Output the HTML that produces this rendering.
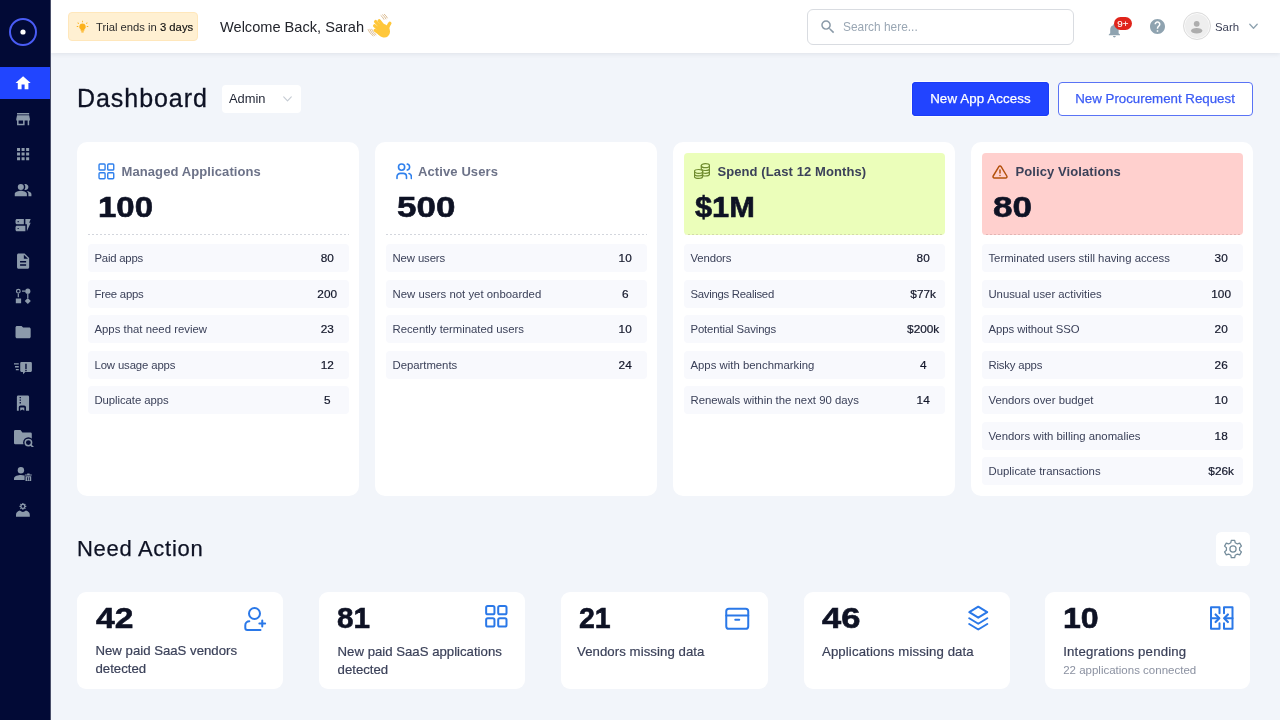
<!DOCTYPE html>
<html lang="en">
<head>
<meta charset="utf-8">
<title>Dashboard</title>
<style>
*{box-sizing:border-box;margin:0;padding:0}
html,body{width:1280px;height:720px;overflow:hidden}
body{font-family:"Liberation Sans",sans-serif;background:#f2f5fa;color:#1a1f36;position:relative}
svg{display:block}
/* sidebar */
.side{position:absolute;left:0;top:0;width:50px;height:720px;background:#020a36;box-shadow:1px 0 0 #4a4f6a;z-index:5}
.logo{position:absolute;left:9.2px;top:17.9px;width:28px;height:28px}
.nav{position:absolute;left:0;top:67.2px;width:50px}
.nav a{display:block;position:relative;width:50px;height:32px;margin-bottom:3.56px;color:#8c9aab}
.nav a.on{background:#2145ff;color:#fff}
.nav svg{position:absolute;fill:currentColor}
/* header */
.top{position:absolute;left:51px;top:0;width:1229px;height:53px;background:#fff;box-shadow:0 1px 5px rgba(20,30,60,.09);z-index:4}
.trial{position:absolute;left:17px;top:12.3px;width:130.3px;height:28.6px;background:#fff0d2;border:1px solid #ffe7bb;border-radius:4px;font-size:11.25px;color:#2b2b2b;line-height:27px;white-space:nowrap}
.trial svg{position:absolute;left:6.5px;top:7px;width:13px;height:14px}
.trial span{position:absolute;left:27px;top:.5px}
.trial b{font-weight:400;color:#111;-webkit-text-stroke:.15px #111}
.welcome{position:absolute;left:169px;top:17px;font-size:14.6px;line-height:20px;color:#23252c;white-space:nowrap}
.wave{position:absolute;left:315px;top:12px;width:28px;height:28px}
.search{position:absolute;left:756px;top:9px;width:267px;height:35.5px;border:1px solid #d9dce1;border-radius:6px;background:#fff}
.search svg{position:absolute;left:11.3px;top:8.3px;width:17.8px;height:17.8px}
.search span{position:absolute;left:35px;top:8.7px;font-size:11.9px;line-height:17px;color:#9aa7b4;white-space:nowrap}
.bell{position:absolute;left:1054.9px;top:21.6px;width:16.8px;height:16.8px}
.badge{position:absolute;left:1062.6px;top:16.6px;width:18.7px;height:13px;border-radius:6.5px;background:#e0241b;color:#fff;font-size:9.8px;-webkit-text-stroke:.12px #fff;line-height:13px;text-align:center}
.help{position:absolute;left:1099.2px;top:18.8px;width:15px;height:15px}
.avatar{position:absolute;left:1132px;top:12.2px;width:28.1px;height:28.1px;border-radius:50%;background:#eee;border:1px solid #dcdcdc;box-shadow:inset 0 0 0 1px #fafafa;overflow:hidden}
.avatar svg{position:absolute;left:4.3px;top:4.5px;width:17.4px;height:17.4px}
.uname{position:absolute;left:1164px;top:18.5px;font-size:11.4px;line-height:17px;color:#3a3f55}
.chev{position:absolute;left:1197.5px;top:23px;width:9px;height:7px}
/* main */
.h1{position:absolute;left:77px;top:83px;font-size:25px;letter-spacing:.95px;-webkit-text-stroke:.3px #0e1224;line-height:30px;font-weight:400;color:#0e1224;white-space:nowrap}
.sel{position:absolute;left:222px;top:85px;width:79px;height:27.5px;background:#fff;border-radius:4px;font-size:12.9px;line-height:28px;padding-left:7px;color:#1f2433}
.sel svg{position:absolute;left:61px;top:10.5px;width:9px;height:6px}
.btn{position:absolute;top:82px;height:33.5px;border-radius:4px;font-size:13.3px;line-height:33.5px;text-align:center;white-space:nowrap}
.btn.p{left:912px;width:137px;letter-spacing:.12px;background:#2244ff;color:#fff;-webkit-text-stroke:.25px #fff;box-shadow:inset 0 0 0 1px #1b3cf6,0 0 0 1px rgba(255,255,255,.75)}
.btn.s{left:1057.8px;width:195.5px;text-indent:-1px;background:#fff;color:#3b5bf5;-webkit-text-stroke:.25px #3b5bf5;border:1px solid #5a73f5;line-height:31.5px}
/* stat cards */
.cards{position:absolute;left:77.2px;top:142px;width:1176.2px;height:354px;display:flex;gap:15.8px}
.card{width:282.2px;height:354px;background:#fff;border-radius:10px;padding:11px 10.7px}
.hd{height:81.5px;position:relative;background:linear-gradient(90deg,#d3d6dd 0 2px,transparent 2px 4px) 0 100%/4px 1px repeat-x}
.hd.g{background:linear-gradient(90deg,#d3dba8 0 2px,transparent 2px 4px) 0 100%/4px 1px repeat-x,#ebfeba;border-radius:4px}
.hd.r{background:linear-gradient(90deg,#e3b5b3 0 2px,transparent 2px 4px) 0 100%/4px 1px repeat-x,#ffd0ce;border-radius:4px}
.hd svg{position:absolute;left:10px;top:10px;width:17px;height:17px}
.hd .t{position:absolute;left:33.6px;top:10px;letter-spacing:.1px;font-size:13px;line-height:17px;font-weight:700;color:#6c7288;white-space:nowrap}
.hd.g .t,.hd.r .t{color:#3b4159}
.hd .n{position:absolute;left:10px;top:36px;font-size:30px;line-height:36px;font-weight:700;color:#0e1224;-webkit-text-stroke:.6px #0e1224;white-space:nowrap;transform-origin:0 50%}
.rows{margin-top:9.5px}
.row{height:28px;margin-bottom:7.5px;background:#f8f9fd;border-radius:4px;position:relative;font-size:11.35px;line-height:28px;color:#3b4159;white-space:nowrap}
.row span{position:absolute;left:6.6px;top:0}
.row b{position:absolute;right:0;top:0;width:43px;text-align:center;font-weight:400;font-size:11.8px;color:#14182b;-webkit-text-stroke:.2px #14182b}
/* need action */
.h2{position:absolute;left:77px;top:535px;font-size:22px;letter-spacing:.7px;font-weight:400;-webkit-text-stroke:.25px #0e1224;line-height:28px;color:#0e1224;white-space:nowrap}
.gear{position:absolute;left:1215.8px;top:531.6px;width:34.4px;height:34px;background:#fff;border-radius:5.5px}
.gear svg{position:absolute;left:4.9px;top:5.1px;width:24px;height:24px}
.acts{position:absolute;left:77px;top:592px;width:1176px;height:96.5px}
.act{position:absolute;top:0;width:206px;height:96.5px;background:#fff;border-radius:9px}
.act .n{position:absolute;left:18px;top:8px;font-size:30px;line-height:36px;font-weight:700;color:#0e1224;-webkit-text-stroke:.6px #0e1224;transform-origin:0 50%}
.act .l{position:absolute;left:18.5px;top:50px;-webkit-text-stroke:.2px #3b4159;font-size:13.2px;line-height:18px;color:#3b4159;width:175px}
.act .s{position:absolute;left:18px;top:71.2px;font-size:11.5px;line-height:14px;color:#8b91a1;white-space:nowrap}
.act svg{position:absolute;fill:none;stroke:#2a78e8;stroke-width:2;stroke-linecap:round;stroke-linejoin:round}
</style>
</head>
<body>
<aside class="side">
  <svg class="logo" viewBox="0 0 28 28"><circle cx="14" cy="14" r="13" fill="none" stroke="#4a5cf5" stroke-width="2"/><circle cx="14" cy="14" r="2.6" fill="#fff"/></svg>
  <nav class="nav">
    <a class="on"><svg viewBox="0 0 24 24" style="left:14.2px;top:6.9px;width:18.2px;height:18.2px"><path d="M10 20v-6h4v6h5v-8h3L12 3 2 12h3v8z"/></svg></a>
    <a><svg viewBox="0 0 24 24" style="left:14.2px;top:6.9px;width:18.2px;height:18.2px"><path d="M20 4H4v2h16V4zm1 10v-2l-1-5H4l-1 5v2h1v6h10v-6h4v6h2v-6h1zm-9 4H6v-4h6v4z"/></svg></a>
    <a><svg viewBox="0 0 24 24" style="left:14.2px;top:6.9px;width:18.2px;height:18.2px"><path d="M4 8h4V4H4v4zm6 12h4v-4h-4v4zm-6 0h4v-4H4v4zm0-6h4v-4H4v4zm6 0h4v-4h-4v4zm6-10v4h4V4h-4zm-6 4h4V4h-4v4zm6 6h4v-4h-4v4zm0 6h4v-4h-4v4z"/></svg></a>
    <a><svg viewBox="0 0 24 24" style="left:14.2px;top:6.9px;width:18.2px;height:18.2px"><path d="M16.670 13.130C18.040 14.060 19 15.320 19 17v3h4v-3c0-2.180-3.570-3.470-6.330-3.870z"/><circle cx="9" cy="8" r="4"/><path d="M15 12c2.210 0 4-1.790 4-4s-1.790-4-4-4c-.47 0-.91.100-1.330.240C14.500 5.270 15 6.580 15 8s-.5 2.730-1.330 3.760c.42.140.86.240 1.330.240zM9 13c-2.670 0-8 1.340-8 4v3h16v-3c0-2.660-5.330-4-8-4z"/></svg></a>
    <a><svg viewBox="0 0 24 24" style="left:14.2px;top:6.9px;width:18.2px;height:18.2px"><path d="M17 20v-9h-2V4h7l-2 5h2l-5 11zm-2-7v7H4c-1.100 0-2-.9-2-2v-3c0-1.100.9-2 2-2h11zm-8.750 2.750h-1.500v1.500h1.500v-1.500zM13 4v7H4c-1.100 0-2-.9-2-2V6c0-1.100.9-2 2-2h9zM6.250 6.750h-1.500v1.500h1.500v-1.500z"/></svg></a>
    <a><svg viewBox="0 0 24 24" style="left:14.2px;top:6.9px;width:18.2px;height:18.2px"><path d="M14 2H6c-1.100 0-1.990.9-1.990 2L4 20c0 1.100.89 2 1.990 2H18c1.100 0 2-.9 2-2V8l-6-6zm2 16H8v-2h8v2zm0-4H8v-2h8v2zm-3-5V3.500L18.500 9H13z"/></svg></a>
    <a><svg viewBox="0 0 24 24" style="left:14.2px;top:6.9px;width:18.2px;height:18.2px"><circle cx="5.700" cy="5.500" r="2.400" fill="none" stroke="currentColor" stroke-width="1.600"/><path d="M4.900 8.500h1.600v5H4.900zM2.400 15.200h7v6.400h-7zM10.600 4.700H15v1.600h-4.400zM17.400 8.500H19v6h-1.600z"/><circle cx="18.200" cy="5.500" r="3.400"/><path d="M18.200 14.500l4 4-4 4-4-4z"/></svg></a>
    <a><svg viewBox="0 0 24 24" style="left:14.2px;top:6.9px;width:18.2px;height:18.2px"><path d="M10 4H4c-1.100 0-1.990.9-1.990 2L2 18c0 1.100.9 2 2 2h16c1.100 0 2-.9 2-2V8c0-1.100-.9-2-2-2h-8l-2-2z"/></svg></a>
    <a><svg viewBox="0 0 24 24" style="left:14.2px;top:7.100px;width:18.200px;height:18.200px"><path fill-rule="evenodd" d="M9.700 4.100h12.400a1.500 1.500 0 0 1 1.500 1.500v9.900a1.500 1.500 0 0 1-1.500 1.500h-7.300l-2.600 3-.5-3H9.700a1.500 1.500 0 0 1-1.500-1.500V5.600a1.500 1.500 0 0 1 1.500-1.500zM14.900 6.200h1.800v7.300h-1.800zM14.900 14.600h1.800v1.500h-1.800zM0 5.600h6.300v1.700H0zM1.300 9.400h5v1.700h-5zM2.400 13.200h3.900v1.700H2.400z"/></svg></a>
    <a><svg viewBox="0 0 24 24" style="left:14.2px;top:7.050px;width:18.200px;height:18.200px"><path fill-rule="evenodd" d="M5.600 2h12.500a1.800 1.800 0 0 1 1.800 1.800V22h-4.100v-4.400a2.500 2.500 0 0 0-2.500-2.500H8.800a2.500 2.500 0 0 0-2.500 2.500V22H3.800V3.800A1.800 1.800 0 0 1 5.600 2zM7.400 4h1.700v1.700H7.400zM7.400 7.300h1.700V9H7.400zM7.400 10.700h1.700v1.700H7.400zM8.200 17.800h5.400V22l-2.700-1.700L8.200 22z"/></svg></a>
    <a><svg viewBox="0 0 19.5 17.7" style="left:14.200px;top:6.900px;width:19.500px;height:17.700px"><path d="M1.300 0h5.200l1.900 2.500h8.100a1.300 1.300 0 0 1 1.300 1.300v10.400H1.300A1.300 1.300 0 0 1 0 12.900V1.300A1.300 1.300 0 0 1 1.300 0z"/><circle cx="14.400" cy="12.600" r="5.300" fill="#020a36"/><circle cx="14.400" cy="12.600" r="3.200" fill="none" stroke="currentColor" stroke-width="1.500"/><path d="M16.800 15l2.200 2.200" fill="none" stroke="currentColor" stroke-width="1.600" stroke-linecap="round"/></svg></a>
    <a><svg viewBox="0 0 17.8 14.6" style="left:14px;top:8.700px;width:17.800px;height:14.600px"><circle cx="6.900" cy="3.200" r="3.200"/><path d="M0 12.900v-1.500c0-2.300 4.400-3.400 6.900-3.400 1.100 0 2.500.2 3.700.6v4.300z"/><path fill-rule="evenodd" d="M13.200 6.600h2.400v.9h2.200v1.100h-6.900V7.500h2.300zM11.500 9.200h5.700v4.700a.7.700 0 0 1-.7.700h-4.300a.7.700 0 0 1-.7-.7zM13 10.200v3.300h.8v-3.300zM14.900 10.200v3.300h.8v-3.300z"/></svg></a>
    <a><svg viewBox="0 0 13.8 13.8" style="left:16.200px;top:9.100px;width:13.800px;height:13.800px"><path fill-rule="evenodd" d="M6.22 -0.03L7.58 -0.03L7.46 0.86L8.30 1.21L8.84 0.49L9.81 1.46L9.09 2.00L9.44 2.84L10.33 2.72L10.33 4.08L9.44 3.96L9.09 4.80L9.81 5.34L8.84 6.31L8.30 5.59L7.46 5.94L7.58 6.83L6.22 6.83L6.34 5.94L5.50 5.59L4.96 6.31L3.99 5.34L4.71 4.80L4.36 3.96L3.47 4.08L3.47 2.72L4.36 2.84L4.71 2.00L3.99 1.46L4.96 0.49L5.50 1.21L6.34 0.86zM6.900 2.100a1.300 1.300 0 1 0 0 2.600 1.300 1.300 0 0 0 0-2.600z"/><path d="M0 13.800v-2.100c0-2.200 2-3.500 3.900-4.100a4.500 4.500 0 0 0 6 0c1.900.6 3.900 1.900 3.900 4.100v2.100z"/></svg></a>
  </nav>
</aside>
<header class="top">
  <div class="trial">
    <svg viewBox="0 0 24 26"><g fill="#fbb11c"><path d="M12 6.500a6 6 0 0 0-3.500 10.900V19a1 1 0 0 0 1 1h5a1 1 0 0 0 1-1v-1.600A6 6 0 0 0 12 6.500z"/><rect x="9.500" y="21" width="5" height="2" rx="1"/><rect x="11.200" y="1" width="1.600" height="3.500" rx=".8"/><rect x="1" y="11.200" width="3.500" height="1.600" rx=".8"/><rect x="19.500" y="11.200" width="3.500" height="1.600" rx=".8"/><rect x="3.300" y="4.200" width="1.600" height="3.500" rx=".8" transform="rotate(-45 4.100 5.950)"/><rect x="19.100" y="4.200" width="1.600" height="3.500" rx=".8" transform="rotate(45 19.900 5.950)"/></g></svg>
    <span>Trial ends in <b>3 days</b></span>
  </div>
  <div class="welcome">Welcome Back, Sarah</div>
  <svg class="wave" viewBox="366 12 28 28" role="img" aria-label="waving hand"><g fill="none" stroke="#ffc73a" stroke-linecap="round"><path d="M384.500 27.500L379.200 20.800" stroke-width="3.300"/><path d="M382 28.500L375.600 21.600" stroke-width="3.300"/><path d="M380.500 31L374.600 25.800" stroke-width="3.200"/><path d="M379.500 33.600L375 30.300" stroke-width="3"/><path d="M386.500 31c1.500-2.500 1.200-5.500 3.300-7.700" stroke-width="3.400"/></g><ellipse cx="383.300" cy="30.600" rx="6.300" ry="7.300" transform="rotate(-40 383.300 30.600)" fill="#ffc73a"/><g fill="none" stroke="#c9995a" stroke-width=".65" stroke-linecap="round"><path d="M381 15.600c1.200.9 2.200 2.200 2.900 3.700M382.600 14.800c1.400 1 2.500 2.400 3.300 4.100M384.300 14.300c1.300.9 2.300 2.100 3 3.600M368.200 29.600c1 2.500 2.700 4.600 4.900 6.200M369.900 29.300c1 2.500 2.700 4.600 4.900 6.200M371.700 29.200c.9 2.200 2.400 4.100 4.300 5.500"/></g></svg>
  <div class="search">
    <svg viewBox="0 0 24 24"><path fill="#8a9aa8" d="M15.500 14h-.79l-.28-.27A6.470 6.470 0 0 0 16 9.500 6.500 6.500 0 1 0 9.500 16c1.610 0 3.090-.59 4.230-1.570l.27.280v.79l5 4.990L20.490 19l-4.990-5zm-6 0C7.010 14 5 11.990 5 9.500S7.010 5 9.500 5 14 7.010 14 9.500 11.990 14 9.500 14z"/></svg>
    <span>Search here...</span>
  </div>
  <svg class="bell" viewBox="0 0 24 24"><path fill="#8fa3b0" d="M12 22c1.100 0 2-.9 2-2h-4c0 1.100.9 2 2 2zm6-6v-5c0-3.070-1.630-5.640-4.500-6.320V4c0-.83-.67-1.500-1.500-1.500s-1.500.67-1.500 1.500v.68C7.640 5.360 6 7.920 6 11v5l-2 2v1h16v-1l-2-2z"/></svg>
  <div class="badge">9+</div>
  <svg class="help" viewBox="2 2 20 20"><path fill="#8fa3b0" d="M12 2C6.480 2 2 6.480 2 12s4.480 10 10 10 10-4.480 10-10S17.520 2 12 2zm1 17h-2v-2h2v2zm2.070-7.750l-.9.920C13.450 12.900 13 13.500 13 15h-2v-.5c0-1.100.45-2.100 1.170-2.830l1.240-1.260c.37-.36.590-.86.590-1.410 0-1.100-.9-2-2-2s-2 .9-2 2H8c0-2.210 1.790-4 4-4s4 1.790 4 4c0 .88-.36 1.680-.93 2.250z"/></svg>
  <div class="avatar"><svg viewBox="0 0 24 24"><g fill="#adadad"><circle cx="12" cy="8" r="4"/><ellipse cx="12" cy="17.600" rx="7.900" ry="3.800"/></g></svg></div>
  <div class="uname">Sarh</div>
  <svg class="chev" viewBox="0 0 9 7"><path d="M.8 1.200l3.700 4 3.700-4" fill="none" stroke="#8fa3b0" stroke-width="1.300" stroke-linecap="round" stroke-linejoin="round"/></svg>
</header>
<main>
  <h1 class="h1">Dashboard</h1>
  <div class="sel">Admin<svg viewBox="0 0 9 6"><path d="M.7.800l3.800 4 3.800-4" fill="none" stroke="#c5cbd3" stroke-width="1.100" stroke-linecap="round" stroke-linejoin="round"/></svg></div>
  <div class="btn p">New App Access</div>
  <div class="btn s">New Procurement Request</div>
  <section class="cards">
    <div class="card">
      <div class="hd"><svg viewBox="0 0 24 24" style="left:10.300px;top:10px;width:16.800px;height:16.800px" fill="none" stroke="#2f80ed" stroke-width="2" stroke-linejoin="round"><rect x="1.500" y="1.500" width="8.600" height="8.600" rx="1.300"/><rect x="13.900" y="1.500" width="8.600" height="8.600" rx="1.300"/><rect x="1.500" y="13.900" width="8.600" height="8.600" rx="1.300"/><rect x="13.900" y="13.900" width="8.600" height="8.600" rx="1.300"/></svg><div class="t">Managed Applications</div><div class="n" style="transform:scaleX(1.1)">100</div></div>
      <div class="rows">
      <div class="row"><span style="letter-spacing:-0.215px">Paid apps</span><b>80</b></div>
      <div class="row"><span style="letter-spacing:-0.229px">Free apps</span><b>200</b></div>
      <div class="row"><span style="letter-spacing:0.013px">Apps that need review</span><b>23</b></div>
      <div class="row"><span style="letter-spacing:-0.125px">Low usage apps</span><b>12</b></div>
      <div class="row"><span style="letter-spacing:-0.061px">Duplicate apps</span><b>5</b></div>
      </div>
    </div>
    <div class="card">
      <div class="hd"><svg viewBox="0 0 16.2 16.2" style="left:9.900px;top:10.400px;width:16.200px;height:16.200px" fill="none" stroke="#2f80ed" stroke-width="1.600" stroke-linecap="round" stroke-linejoin="round"><circle cx="5.600" cy="4.100" r="3.100"/><path d="M1 15.400v-1.700a3.300 3.300 0 0 1 3.300-3.300h2.900a3.300 3.300 0 0 1 3.300 3.300v1.700"/><path d="M11.300 1.100a3.100 3.100 0 0 1 0 6"/><path d="M13 10.500a3.300 3.300 0 0 1 2.400 3.200v1.700"/></svg><div class="t" style="left:32.200px">Active Users</div><div class="n" style="left:11.500px;transform:scaleX(1.165)">500</div></div>
      <div class="rows">
      <div class="row"><span style="letter-spacing:-0.105px">New users</span><b>10</b></div>
      <div class="row"><span style="letter-spacing:0.021px">New users not yet onboarded</span><b>6</b></div>
      <div class="row"><span style="letter-spacing:-0.012px">Recently terminated users</span><b>10</b></div>
      <div class="row"><span style="letter-spacing:-0.020px">Departments</span><b>24</b></div>
      </div>
    </div>
    <div class="card">
      <div class="hd g"><svg viewBox="0 0 16 16" style="left:10.600px;top:10.300px;width:16px;height:16px" fill="none" stroke="#6f8c2e" stroke-width="1.200" stroke-linecap="round" stroke-linejoin="round"><ellipse cx="11.400" cy="2.700" rx="4.100" ry="2"/><path d="M7.300 2.700v3.200M15.500 2.700v8.300c0 1.100-1.800 2-4.100 2-.8 0-1.500-.1-2.100-.3M15.500 5.500c0 1.100-1.800 2-4.100 2-1.700 0-3.100-.5-3.800-1.200M15.500 8.300c0 1.100-1.800 2-4.100 2-.8 0-1.500-.1-2.100-.3"/><ellipse cx="4.600" cy="8.400" rx="4.100" ry="1.900"/><path d="M.5 8.400v5.100c0 1 1.800 1.900 4.100 1.900s4.100-.9 4.100-1.900V8.400M.5 11c0 1 1.800 1.900 4.100 1.900s4.100-.9 4.100-1.900"/></svg><div class="t">Spend (Last 12 Months)</div><div class="n" style="left:11px;transform:scaleX(1.026)">$1M</div></div>
      <div class="rows">
      <div class="row"><span style="letter-spacing:-0.104px">Vendors</span><b>80</b></div>
      <div class="row"><span style="letter-spacing:-0.260px">Savings Realised</span><b>$77k</b></div>
      <div class="row"><span style="letter-spacing:-0.119px">Potential Savings</span><b>$200k</b></div>
      <div class="row"><span style="letter-spacing:0.019px">Apps with benchmarking</span><b>4</b></div>
      <div class="row"><span style="letter-spacing:0.004px">Renewals within the next 90 days</span><b>14</b></div>
      </div>
    </div>
    <div class="card">
      <div class="hd r"><svg viewBox="0 0 24 24" style="left:10.600px;top:10.500px;width:16px;height:16px" fill="none" stroke="#b4500b" stroke-width="2.200" stroke-linecap="round" stroke-linejoin="round"><path d="M10.290 3.860L1.820 18a2 2 0 0 0 1.710 3h16.940a2 2 0 0 0 1.710-3L13.710 3.860a2 2 0 0 0-3.420 0z"/><path d="M12 9v4.500M12 17.200v.1"/></svg><div class="t">Policy Violations</div><div class="n" style="left:11px;transform:scaleX(1.17)">80</div></div>
      <div class="rows">
      <div class="row"><span style="letter-spacing:-0.002px">Terminated users still having access</span><b>30</b></div>
      <div class="row"><span style="letter-spacing:-0.009px">Unusual user activities</span><b>100</b></div>
      <div class="row"><span style="letter-spacing:-0.057px">Apps without SSO</span><b>20</b></div>
      <div class="row"><span style="letter-spacing:-0.165px">Risky apps</span><b>26</b></div>
      <div class="row"><span style="letter-spacing:0.016px">Vendors over budget</span><b>10</b></div>
      <div class="row"><span style="letter-spacing:0.001px">Vendors with billing anomalies</span><b>18</b></div>
      <div class="row"><span style="letter-spacing:0.028px">Duplicate transactions</span><b>$26k</b></div>
      </div>
    </div>
  </section>
  <h2 class="h2">Need Action</h2>
  <div class="gear"><svg viewBox="-12 -12 24 24" fill="none" stroke="#748c9b" stroke-width="1.250" stroke-linejoin="round"><path d="M-2.18 -6.33L-1.70 -8.74L1.70 -8.74L2.18 -6.33L4.40 -5.06L6.72 -5.84L8.42 -2.90L6.58 -1.28L6.58 1.28L8.42 2.90L6.72 5.84L4.40 5.06L2.18 6.33L1.70 8.74L-1.70 8.74L-2.18 6.33L-4.40 5.06L-6.72 5.84L-8.42 2.90L-6.58 1.28L-6.58 -1.28L-8.42 -2.90L-6.72 -5.84L-4.40 -5.06z"/><circle cx="0" cy="0" r="3.100"/></svg></div>
  <section class="acts">
    <div class="act" style="left:0;width:206.300px"><div class="n" style="left:18.800px;transform:scaleX(1.12)">42</div><div class="l">New paid SaaS vendors detected</div>
      <svg viewBox="236 600 40 36" style="left:159px;top:8px;width:40px;height:36px"><circle cx="254.500" cy="613.500" r="5.500"/><path d="M249.300 621.300a4 4 0 0 0-4 4v2.700a2 2 0 0 0 2 2h13.200"/><path d="M262.250 620.600v5.800M259.350 623.500h5.800"/></svg></div>
    <div class="act" style="left:242.100px"><div class="n" style="transform:scaleX(.99)">81</div><div class="l" style="top:51px">New paid SaaS applications detected</div>
      <svg viewBox="476 598 40 36" style="left:156.700px;top:6px;width:40px;height:36px" stroke-width="1.800"><rect x="486.150" y="605.950" width="8.300" height="8.300" rx="1.600"/><rect x="498.200" y="605.950" width="8.300" height="8.300" rx="1.600"/><rect x="486.150" y="618.200" width="8.300" height="8.300" rx="1.600"/><rect x="498.200" y="618.200" width="8.300" height="8.300" rx="1.600"/></svg></div>
    <div class="act" style="left:484px;width:207px"><div class="n" style="transform:scaleX(.95)">21</div><div class="l" style="left:16px;top:51px;letter-spacing:.07px">Vendors missing data</div>
      <svg viewBox="717 598 40 36" style="left:156px;top:6px;width:40px;height:36px"><rect x="726.250" y="608.750" width="22" height="20" rx="2.600"/><path d="M726.250 615.500h22M735.250 619.850h4"/></svg></div>
    <div class="act" style="left:726.500px"><div class="n" style="transform:scaleX(1.15)">46</div><div class="l" style="top:51px;letter-spacing:.12px">Applications missing data</div>
      <svg viewBox="958 598 40 36" style="left:154.500px;top:6px;width:40px;height:36px"><path d="M978.250 606.700l8.950 5.500-8.950 5.500-8.950-5.500z"/><path d="M969.200 618.250l9.050 5.500 9.050-5.500M969.200 624l9.050 5.500 9.050-5.500"/></svg></div>
    <div class="act" style="left:968.200px;width:204.800px"><div class="n" style="transform:scaleX(1.07)">10</div><div class="l" style="left:18px;top:50.500px;letter-spacing:.18px">Integrations pending</div><div class="s">22 applications connected</div>
      <svg viewBox="1202 598 40 36" style="left:156.800px;top:6px;width:40px;height:36px" stroke-linejoin="miter" stroke-linecap="butt"><path d="M1219.500 613.300V607.250H1211V628.750h8.500V623.200M1224 613.300V607.250h8.500V628.750H1224V623.200"/><path d="M1211 618.250h7.800M1232.500 618.250h-7.800"/><path d="M1215.600 614.500l3.700 3.750-3.700 3.750M1227.900 614.500l-3.700 3.750 3.700 3.750" stroke-linecap="round" stroke-linejoin="round" stroke-width="2.200"/></svg></div>
  </section>
</main>
</body>
</html>
